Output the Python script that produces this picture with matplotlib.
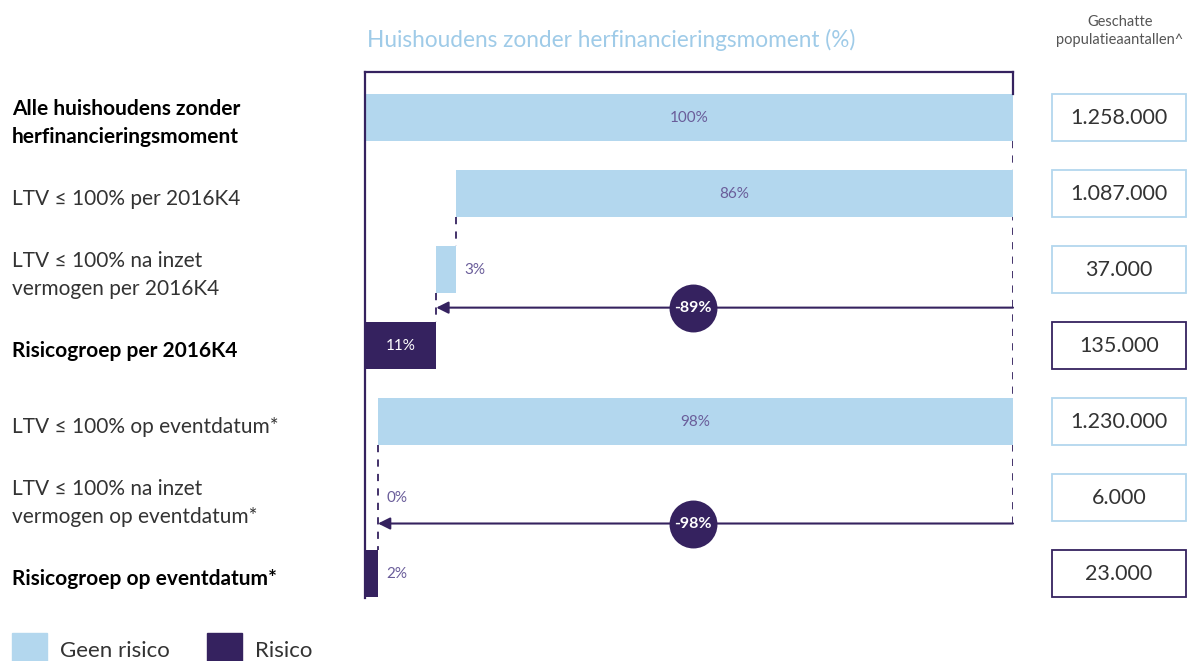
import matplotlib.pyplot as plt
from matplotlib.patches import Rectangle
from matplotlib.transforms import blended_transform_factory
import numpy as np

plt.rcParams['font.family'] = ['Lato', 'DejaVu Sans']

LIGHT = '#b3d7ee'
DARK = '#35225f'

categories = ['Alle huishoudens zonder\nherfinancieringsmoment',
              'LTV ≤ 100% per 2016K4',
              'LTV ≤ 100% na inzet\nvermogen per 2016K4',
              'Risicogroep per 2016K4',
              'LTV ≤ 100% op eventdatum*',
              'LTV ≤ 100% na inzet\nvermogen op eventdatum*',
              'Risicogroep op eventdatum*']
starts = [0, 14, 11, 0, 2, 2, 0]
values = [100, 86, 3, 11, 98, 0, 2]
risk = [False, False, False, True, False, False, True]
counts = ['1.258.000', '1.087.000', '37.000', '135.000', '1.230.000', '6.000', '23.000']
changes = [-89, -98]
change_rows = [2.5, 5.34]

fig = plt.figure(figsize=(11.9, 6.61), dpi=100)
ax = fig.add_axes([365 / 1190, 1 - 598 / 661, 648 / 1190, 526 / 661])
ax.set_xlim(0, 100)
ax.set_ylim(6.32, -0.6)
ax.axis('off')

y = np.arange(len(categories))
bh = 0.62

# frame: left, top and short right piece
ax.plot([0, 0], [6.32, -0.6], color=DARK, lw=1.6, clip_on=False, zorder=5)
ax.plot([0, 100], [-0.6, -0.6], color=DARK, lw=1.6, clip_on=False, zorder=5)
ax.plot([100, 100], [-0.6, -bh / 2], color=DARK, lw=1.6, clip_on=False, zorder=5)

# dashed connectors
dash = dict(color=DARK, lw=1.3, ls=(0, (4, 4)), zorder=1)
ax.plot([100, 100], [bh / 2, change_rows[1]], **dash)
ax.plot([starts[1], starts[1]], [1 + bh / 2, 2 - bh / 2], **dash)
ax.plot([starts[2], starts[2]], [2 + bh / 2, 3 - bh / 2], **dash)
ax.plot([starts[4], starts[4]], [4 + bh / 2, 6 - bh / 2], **dash)

colors = [DARK if r else LIGHT for r in risk]
ax.barh(y, values, left=starts, height=bh, color=colors, zorder=2)

for i in range(len(values)):
    v, s = values[i], starts[i]
    if v >= 10:
        ax.text(s + v / 2, i, f'{v}%', ha='center', va='center', fontsize=11,
                color='white' if risk[i] else '#6a5d9a', zorder=3)
    else:
        ax.text(s + v + 1.3, i, f'{v}%', ha='left', va='center', fontsize=11,
                color='#6a5d9a', zorder=3)

for c, row in zip(changes, change_rows):
    ax.annotate('', xy=(100 + c, row), xytext=(100, row),
                arrowprops=dict(arrowstyle='-|>', color=DARK, lw=1.5,
                                mutation_scale=18, shrinkA=0, shrinkB=0),
                zorder=3)
    ax.scatter([50.6], [row], s=1190, color=DARK, zorder=4, linewidths=0)
    ax.text(50.6, row, f'{c}%', ha='center', va='center', fontsize=11.5,
            color='white', fontweight='bold', zorder=5)

# left labels and right boxes
tr = blended_transform_factory(fig.transFigure, ax.transData)
for i, cat in enumerate(categories):
    bold = risk[i] or i == 0
    ax.text(12 / 1190, i + 0.07, cat, transform=tr, ha='left', va='center',
            fontsize=15, linespacing=1.45,
            fontweight='bold' if bold else 'normal',
            color='#000000' if bold else '#333333')
    ax.add_patch(Rectangle((1052 / 1190, i - bh / 2), 134 / 1190, bh,
                           transform=tr, fill=False, lw=1.3,
                           edgecolor=DARK if risk[i] else LIGHT, clip_on=False))
    ax.text(1119 / 1190, i, counts[i], transform=tr, ha='center', va='center',
            fontsize=15.5, color='#333333')

fig.text(367 / 1190, 1 - 40 / 661, 'Huishoudens zonder herfinancieringsmoment (%)',
         ha='left', va='center', fontsize=16.3, color='#9fcbe8')
fig.text(1120 / 1190, 1 - 31 / 661, 'Geschatte\npopulatieaantallen^',
         ha='center', va='center', fontsize=10.5, color='#555555', linespacing=1.3)

# legend
fig.patches.append(Rectangle((12 / 1190, 0), 35 / 1190, 28 / 661,
                             transform=fig.transFigure, color=LIGHT))
fig.patches.append(Rectangle((207 / 1190, 0), 35 / 1190, 28 / 661,
                             transform=fig.transFigure, color=DARK))
fig.text(60 / 1190, 10 / 661, 'Geen risico', ha='left', va='center',
         fontsize=16, color='#333333')
fig.text(255 / 1190, 10 / 661, 'Risico', ha='left', va='center',
         fontsize=16, color='#333333')

fig.savefig('out.png', dpi=100)
